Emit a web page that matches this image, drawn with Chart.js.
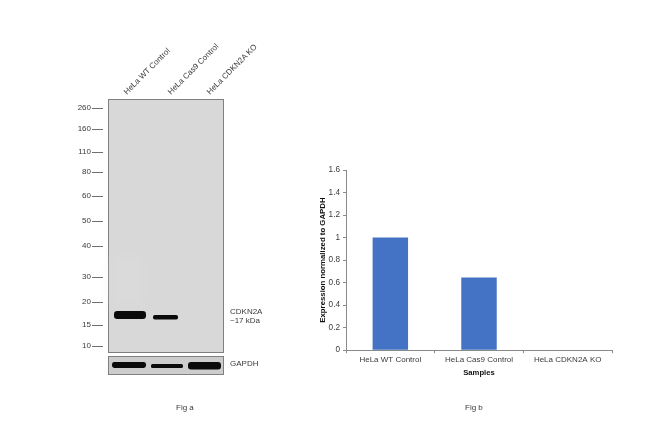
<!DOCTYPE html>
<html>
<head>
<meta charset="utf-8">
<script src="https://cdn.jsdelivr.net/npm/chart.js@4"></script>
<style>
html, body { margin: 0; padding: 0; background: #fff; }
body { width: 650px; height: 431px; position: relative; overflow: hidden; font-family: "Liberation Sans", Arial, sans-serif; color: #3a3a3a; }
canvas { position: absolute; left: 0; top: 0; }
.t { position: absolute; font-size: 8px; line-height: 10px; white-space: nowrap; }
.marker { width: 26px; text-align: right; left: 65px; }
.lane { transform-origin: 0 100%; transform: rotate(-45deg); }
</style>
</head>
<body>
<canvas id="blot" width="650" height="431"></canvas>
<canvas id="chart" width="650" height="431"></canvas>
<div id="labels"></div>

<script>
const categories = ['HeLa WT Control', 'HeLa Cas9 Control', 'HeLa CDKN2A KO'];
const expression = [1, 0.645, 0];
const yTicks = [0, 0.2, 0.4, 0.6, 0.8, 1, 1.2, 1.4, 1.6];
const markers = ['260', '160', '110', '80', '60', '50', '40', '30', '20', '15', '10'];

// blot layout
const markerY = [108, 129, 152, 172, 196, 221, 246, 277, 302, 325, 346];
const laneX = [129, 173, 212];

// Fig b
new Chart(document.getElementById('chart'), {
    type: 'bar',
    data: {
        labels: categories,
        datasets: [{
            data: expression,
            backgroundColor: '#4472C4',
            categoryPercentage: 1,
            barPercentage: 0.4
        }]
    },
    options: {
        responsive: false,
        animation: false,
        layout: { padding: { left: 318, right: 38, top: 170, bottom: 53 } },
        plugins: { legend: { display: false }, tooltip: { enabled: false } },
        scales: {
            x: {
                grid: { drawOnChartArea: false, color: '#8a8a8a', tickLength: 3 },
                border: { color: '#8a8a8a' },
                ticks: { color: '#3a3a3a', font: { family: 'Liberation Sans', size: 8 }, maxRotation: 0, padding: 2 },
                title: { display: true, text: 'Samples', color: '#111', font: { family: 'Liberation Sans', size: 7.7, weight: 'bold' }, padding: { top: 2, bottom: 0 } }
            },
            y: {
                min: 0,
                max: 1.6,
                afterBuildTicks: axis => { axis.ticks = yTicks.map(v => ({ value: v })); },
                afterFit: axis => { axis.width = 28; },
                grid: { drawOnChartArea: false, color: '#8a8a8a', tickLength: 3 },
                border: { color: '#8a8a8a' },
                ticks: { color: '#3a3a3a', font: { family: 'Liberation Sans', size: 8.2 }, padding: 3, callback: v => String(v) },
                title: { display: true, text: 'Expression normalized to GAPDH', color: '#111', font: { family: 'Liberation Sans', size: 7.8, weight: 'bold' }, padding: 0 }
            }
        }
    }
});

// Fig a: western blot panels
function band(ctx, x, y, w, h, blur) {
    ctx.filter = `blur(${blur}px)`;
    ctx.fillStyle = '#0a0a0a';
    ctx.beginPath();
    ctx.roundRect(x, y, w, h, h / 2.5);
    ctx.fill();
    ctx.filter = 'none';
}

function drawBlot() {
    const ctx = document.getElementById('blot').getContext('2d');

    ctx.fillStyle = '#d8d8d8';
    ctx.fillRect(108, 99, 116, 254);
    ctx.strokeStyle = '#808080';
    ctx.lineWidth = 1;
    ctx.strokeRect(108.5, 99.5, 115, 253);

    // faint smear above the first band
    ctx.filter = 'blur(6px)';
    ctx.fillStyle = '#dadada';
    ctx.fillRect(114, 255, 28, 50);
    ctx.filter = 'none';

    band(ctx, 114, 311, 32, 8, 0.6);
    band(ctx, 153, 315, 25, 4.5, 0.6);

    ctx.fillStyle = '#cdcdcd';
    ctx.fillRect(108, 356, 116, 19);
    ctx.strokeStyle = '#808080';
    ctx.strokeRect(108.5, 356.5, 115, 18);
    band(ctx, 112, 362, 34, 6, 0.6);
    band(ctx, 151, 364, 32, 4, 0.6);
    band(ctx, 188, 362, 33, 7.5, 0.6);

    ctx.strokeStyle = '#707070';
    markerY.forEach(y => {
        ctx.beginPath();
        ctx.moveTo(92, y + 0.5);
        ctx.lineTo(103, y + 0.5);
        ctx.stroke();
    });
}
drawBlot();

// text around the blot
const holder = document.getElementById('labels');
function addText(text, css, cls) {
    const el = document.createElement('div');
    el.className = 't' + (cls ? ' ' + cls : '');
    el.textContent = text;
    el.style.cssText = css;
    holder.appendChild(el);
}
markers.forEach((m, i) => addText(m, `top:${markerY[i] - 5}px`, 'marker'));
categories.forEach((c, i) => addText(c, `left:${laneX[i]}px;top:87px`, 'lane'));
addText('CDKN2A', 'left:230px;top:307px');
addText('~17 kDa', 'left:230px;top:316px');
addText('GAPDH', 'left:230px;top:359px');
addText('Fig a', 'left:176px;top:403px');
addText('Fig b', 'left:465px;top:403px');
</script>
</body>
</html>
